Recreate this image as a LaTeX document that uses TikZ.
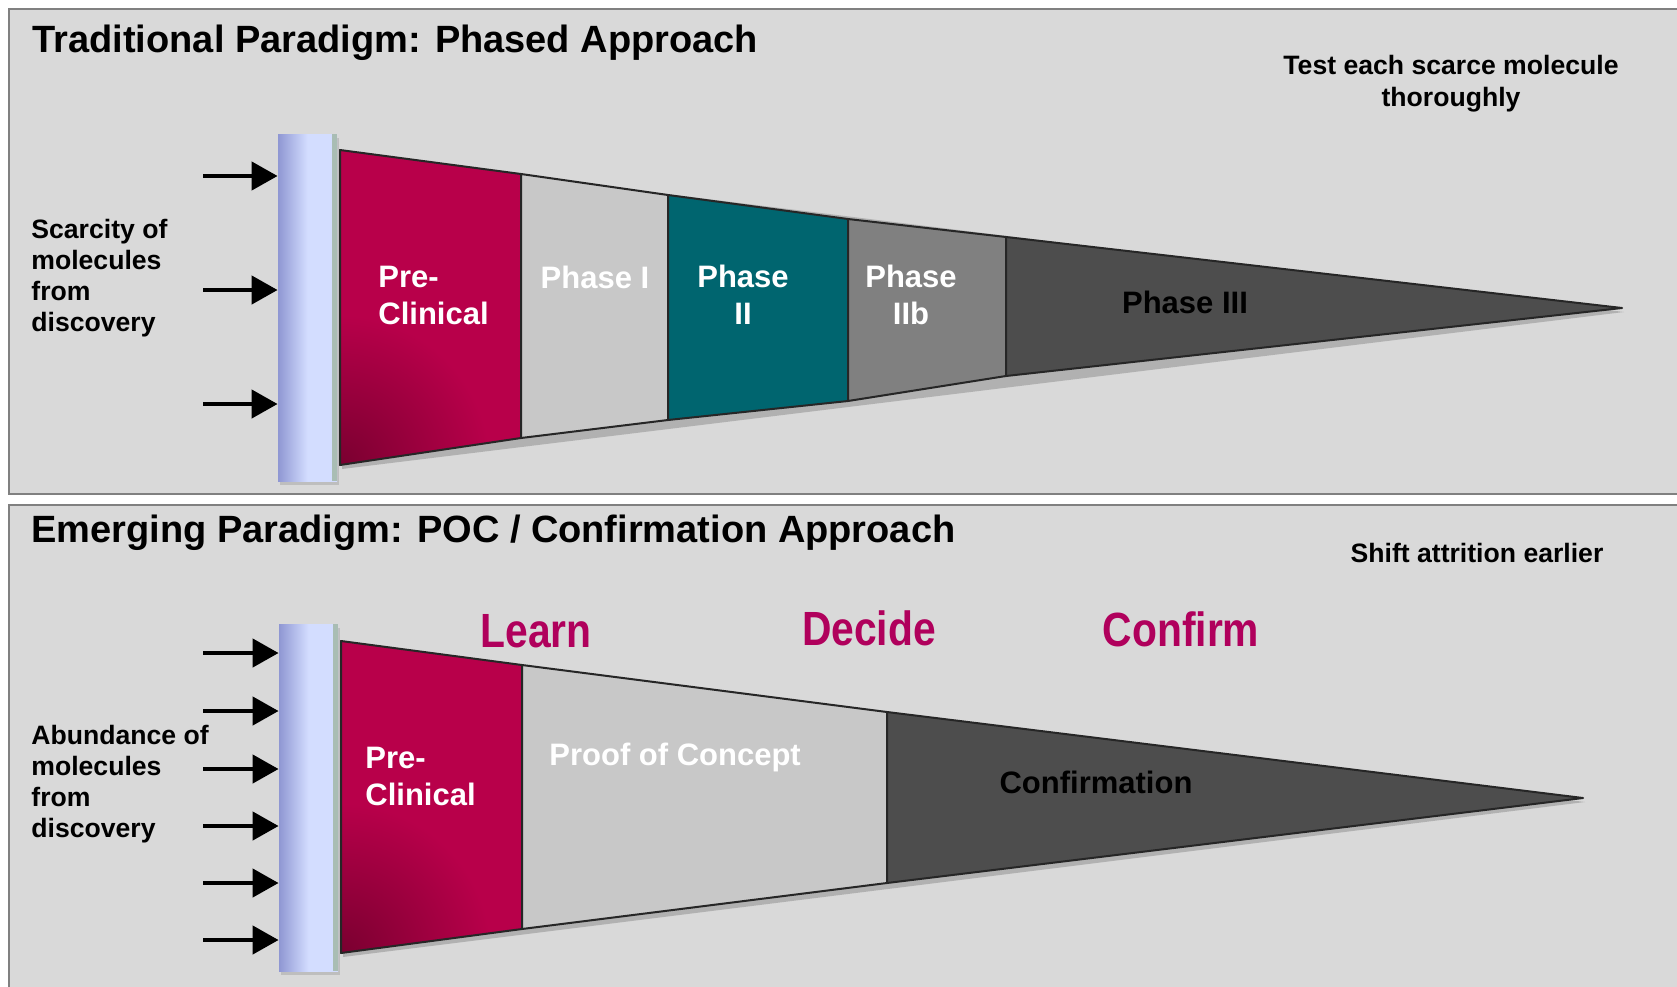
\documentclass[tikz,border=0pt]{standalone}
\usepackage{fontspec}
\setmainfont{Liberation Sans}
\newfontfamily\narrowsans[FakeStretch=0.85]{Liberation Sans}
\usetikzlibrary{arrows.meta,shadows}

\definecolor{panelgray}{HTML}{D9D9D9}
\definecolor{panelline}{HTML}{808080}
\definecolor{crimson}{HTML}{B8004A}
\definecolor{darkcrimson}{HTML}{7A0030}
\definecolor{verbcolor}{HTML}{B0005C}
\definecolor{phaseone}{HTML}{C8C8C8}
\definecolor{phasetwo}{HTML}{00656F}
\definecolor{phasetwob}{HTML}{808080}
\definecolor{phasethree}{HTML}{4D4D4D}
\definecolor{wedgeline}{HTML}{262626}
\definecolor{barleft}{HTML}{8F97D3}
\definecolor{barmid}{HTML}{D3DDFF}
\definecolor{baredge}{HTML}{A9BDB4}

\tikzset{
  panel/.style={fill=panelgray, draw=panelline, line width=1.25pt},
  section/.style={draw=wedgeline, line width=1pt, line join=round},
  molbar/.style={rectangle, inner sep=0pt, minimum width=29.5pt, minimum height=173.5pt,
    left color=barleft, right color=barmid, middle color=barmid,
    drop shadow={opacity=.3, shadow xshift=1pt, shadow yshift=-2pt}},
  feed/.style={-{Triangle[length=13pt,width=14pt]}, line width=2.2pt},
  title/.style={inner sep=0pt, font=\fontsize{19}{23}\selectfont\bfseries},
  note/.style={inner sep=0pt, align=center, font=\fontsize{13.3}{16}\selectfont\bfseries},
  side/.style={inner sep=0pt, align=left, font=\fontsize{13.3}{15.5}\selectfont\bfseries},
  phase/.style={inner sep=0pt, align=center, text=white, font=\fontsize{15.5}{18.5}\selectfont\bfseries},
  verb/.style={inner sep=0pt, text=verbcolor, font=\narrowsans\fontsize{24}{28}\selectfont\bfseries}
}

\begin{document}
\begin{tikzpicture}[x=0.5pt,y=-0.5pt]
    \useasboundingbox[fill=white] (0,0) rectangle (1677,986);

    % panels
    \draw[panel] (9,9) rectangle (1700,494);
    \draw[panel] (9,505) rectangle (1700,1010);

    % ---------- traditional paradigm ----------
    \node[title, anchor=west] (title1) at (32,43) {Traditional Paradigm: Phased Approach};
    \node[note] (scarcenote) at (1451,84) {Test each scarce molecule\\thoroughly};
    \node[side, anchor=west] (scarcity) at (31,278) {Scarcity of\\molecules\\from\\discovery};

    % molecule bar
    \node[molbar] (bar1) at (307.5,307.5) {};
    \fill[baredge] ([xshift=-2.5pt]bar1.north east) rectangle (bar1.south east);

    % arrows into the bar
    \foreach \y [count=\i] in {176,290,404} {
        \coordinate (in1\i) at (203,\y);
        \draw[feed] (in1\i) -- (bar1.west |- in1\i);
    }

    % wedge corners
    \coordinate (t0) at (340,150);  \coordinate (b0) at (340,465);
    \coordinate (t1) at (521,174);  \coordinate (b1) at (521,438);
    \coordinate (t2) at (668,195);  \coordinate (b2) at (668,420);
    \coordinate (t3) at (848,219);  \coordinate (b3) at (848,401);
    \coordinate (t4) at (1006,237); \coordinate (b4) at (1006,376);
    \coordinate (tip1) at (1622,308);

    % wedge shadow
    \fill[black, opacity=.18] ([shift={(1pt,-2pt)}]t0) -- ([shift={(1pt,-2pt)}]tip1)
        -- ([shift={(1pt,-2pt)}]b0) -- cycle;

    % wedge sections
    \fill[crimson] (t0) -- (t1) -- (b1) -- (b0) -- cycle;
    \begin{scope}
        \clip (t0) -- (t1) -- (b1) -- (b0) -- cycle;
        \shade[inner color=darkcrimson, outer color=crimson] (b0) circle (150);
    \end{scope}
    \draw[section] (t0) -- (t1) -- (b1) -- (b0) -- cycle;
    \filldraw[section, fill=phaseone] (t1) -- (t2) -- (b2) -- (b1) -- cycle;
    \filldraw[section, fill=phasetwo] (t2) -- (t3) -- (b3) -- (b2) -- cycle;
    \filldraw[section, fill=phasetwob] (t3) -- (t4) -- (b4) -- (b3) -- cycle;
    \filldraw[section, fill=phasethree] (t4) -- (tip1) -- (b4) -- cycle;

    % section labels
    \node[phase, anchor=west, align=left] (pre1) at (378,295) {Pre-\\Clinical};
    \node[phase] (ph1) at (595,277) {Phase I};
    \node[phase] (ph2) at (743,295) {Phase\\II};
    \node[phase] (ph2b) at (911,295) {Phase\\IIb};
    \node[phase, text=black] (ph3) at (1185,302) {Phase III};

    % ---------- emerging paradigm ----------
    \node[title, anchor=west] (title2) at (31,533) {Emerging Paradigm: POC / Confirmation Approach};
    \node[note] (shiftnote) at (1477,553) {Shift attrition earlier};
    \node[side, anchor=west] (abundance) at (31,784) {Abundance of\\molecules\\from\\discovery};

    % molecule bar
    \node[molbar] (bar2) at (308.5,797.5) {};
    \fill[baredge] ([xshift=-2.5pt]bar2.north east) rectangle (bar2.south east);

    % arrows into the bar
    \foreach \y [count=\i] in {653,711,769,826,883,940} {
        \coordinate (in2\i) at (203,\y);
        \draw[feed] (in2\i) -- (bar2.west |- in2\i);
    }

    % wedge corners
    \coordinate (u0) at (341,641); \coordinate (l0) at (341,953);
    \coordinate (u1) at (522,665); \coordinate (l1) at (522,929);
    \coordinate (u2) at (887,712); \coordinate (l2) at (887,883);
    \coordinate (tip2) at (1583,798);

    % wedge shadow
    \fill[black, opacity=.18] ([shift={(1pt,-2pt)}]u0) -- ([shift={(1pt,-2pt)}]tip2)
        -- ([shift={(1pt,-2pt)}]l0) -- cycle;

    % wedge sections
    \fill[crimson] (u0) -- (u1) -- (l1) -- (l0) -- cycle;
    \begin{scope}
        \clip (u0) -- (u1) -- (l1) -- (l0) -- cycle;
        \shade[inner color=darkcrimson, outer color=crimson] (l0) circle (150);
    \end{scope}
    \draw[section] (u0) -- (u1) -- (l1) -- (l0) -- cycle;
    \filldraw[section, fill=phaseone] (u1) -- (u2) -- (l2) -- (l1) -- cycle;
    \filldraw[section, fill=phasethree] (u2) -- (tip2) -- (l2) -- cycle;

    % section labels
    \node[phase, anchor=west, align=left] (pre2) at (365,776) {Pre-\\Clinical};
    \node[phase, anchor=west] (poc) at (549,757) {Proof of Concept};
    \node[phase, text=black] (confirmation) at (1096,782) {Confirmation};

    % learn / decide / confirm
    \node[verb] (learn) at (536,631) {Learn};
    \node[verb] (decide) at (869,628) {Decide};
    \node[verb] (confirm) at (1181,629) {Confirm};
\end{tikzpicture}
\end{document}
